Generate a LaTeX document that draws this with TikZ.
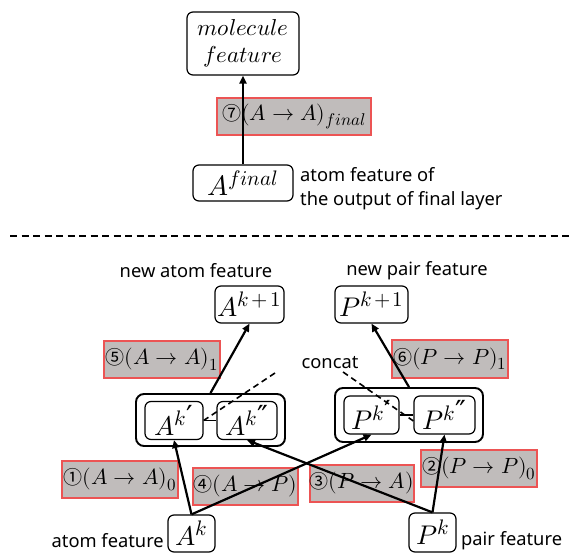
\documentclass[tikz,border=0pt]{standalone}
\usepackage{fontspec}
\usepackage{unicode-math}
\setmainfont{Noto Sans}
\setmathfont{Latin Modern Math}
\newfontfamily\circfont{Noto Sans CJK JP}
\newfontfamily\primefont{DejaVu Sans}
\usetikzlibrary{arrows.meta,calc}
\definecolor{lblgray}{RGB}{192,188,187}
\definecolor{lblred}{RGB}{236,84,84}
\tikzset{
  featbox/.style={draw=black, line width=1.2pt, rounded corners=6pt, inner sep=0pt, fill=white},
  groupbox/.style={draw=black, line width=1.9pt, rounded corners=8pt, inner sep=0pt},
  opbox/.style={draw=lblred, fill=lblgray, line width=1.2pt, inner sep=0pt},
  flow/.style={line width=2.2pt, -{Triangle[length=8pt,width=7pt]}},
  cat/.style={dashed, line width=1.6pt, dash pattern=on 6pt off 4pt},
  sanslbl/.style={inner sep=0pt, font=\fontsize{18.3}{24}\selectfont},
  mathbig/.style={font=\fontsize{27}{29}\selectfont},
  oplbl/.style={font=\fontsize{22}{26}\selectfont},
}
% circled step number
\newcommand{\cnum}[1]{{\circfont\fontsize{19}{24}\selectfont #1}}
% scripts set at an explicit size
\newcommand{\hsup}[2]{^{\hbox{\fontsize{#1}{#1}\selectfont$#2$}}}
\newcommand{\hsub}[2]{_{\hbox{\fontsize{#1}{#1}\selectfont$#2$}}}
\newcommand{\pr}{\hbox{\primefont\fontsize{29}{29}\selectfont\kern0.5pt\raise-1pt\hbox{′}}}
\newcommand{\ppr}{\hbox{\primefont\fontsize{29}{29}\selectfont\kern0.5pt\raise-1pt\hbox{″}}}
\newcommand{\kpo}{k\mkern2mu{+}\mkern2mu1}
\begin{document}
\begin{tikzpicture}[x=1pt,y=-1pt]
\useasboundingbox (0,0) rectangle (582,553);

% ---- readout part ----
\node[featbox, minimum width=112pt, minimum height=63pt, align=center,
      font=\fontsize{23}{27}\selectfont] (mol) at (243,43.5) {$molecule$\\$feature$};
\node[opbox, minimum width=154pt, minimum height=37pt, oplbl] (l7) at (294,116.5)
      {\cnum{⑦}$(A\to A)\hsub{17}{final}$};
\node[featbox, minimum width=100pt, minimum height=36pt, font=\fontsize{28}{31}\selectfont] (afin) at (243,183) {$A\hsup{21}{final}$};
\node[sanslbl, anchor=west, align=left] (afintxt) at (300,189) {atom feature of\\the output of final layer};
\draw[flow] (afin.north) -- (mol.south);

% ---- separator ----
\coordinate (sepL) at (10,236);
\coordinate (sepR) at (572,236);
\draw[line width=2pt, dash pattern=on 7pt off 4.5pt] (sepL) -- (sepR);

% ---- one layer ----
\node[sanslbl] (newatom) at (196,271) {new atom feature};
\node[sanslbl] (newpair) at (417,271) {new pair feature};
\node[featbox, minimum width=69pt, minimum height=37pt, mathbig] (Ak1) at (249.5,304.5) {$A\hsup{21}{\kpo}$};
\node[featbox, minimum width=73pt, minimum height=37pt, mathbig] (Pk1) at (371.5,304.5) {$P\hsup{21}{\kpo}$};

\node[opbox, minimum width=116pt, minimum height=37pt, oplbl] (l5) at (162,359.5) {\cnum{⑤}$(A\to A)\hsub{17}{1}$};
\node[opbox, minimum width=116pt, minimum height=38pt, oplbl] (l6) at (450,359) {\cnum{⑥}$(P\to P)\hsub{17}{1}$};
\node[sanslbl] (concat) at (330,363) {concat};

\node[groupbox, minimum width=149pt, minimum height=52pt] (Aout) at (210.5,420) {};
\node[groupbox, minimum width=148pt, minimum height=54pt] (Pout) at (409,415) {};
\node[featbox, minimum width=58pt, minimum height=38pt, mathbig] (Akp) at (174,420.5) {$A\hsup{21}{k\pr}$};
\node[featbox, minimum width=60pt, minimum height=38pt, mathbig] (Akpp) at (247,420.5) {$A\hsup{21}{k\ppr}$};
\node[featbox, minimum width=55pt, minimum height=38pt, mathbig] (Pkp) at (371.5,415) {$P\hsup{21}{k\pr}$};
\node[featbox, minimum width=61pt, minimum height=38pt, mathbig] (Pkpp) at (444.5,415) {$P\hsup{21}{k\ppr}$};
\draw[line width=1.2pt] (Akp.east) -- (Akpp.west);
\draw[line width=1.2pt] (Pkp.east) -- (Pkpp.west);

\node[opbox, minimum width=116pt, minimum height=37pt, oplbl] (l1) at (120,479.5) {\cnum{①}$(A\to A)\hsub{17}{0}$};
\node[opbox, minimum width=105pt, minimum height=37pt, oplbl] (l4) at (245.5,486.5) {\cnum{④}$(A\to P)$};
\node[opbox, minimum width=102pt, minimum height=37pt, oplbl] (l3) at (362,483.5) {\cnum{③}$(P\to A)$};
\node[opbox, minimum width=116pt, minimum height=37pt, oplbl] (l2) at (479,468.5) {\cnum{②}$(P\to P)\hsub{17}{0}$};

\node[featbox, minimum width=47pt, minimum height=37pt, mathbig] (Ak) at (191.5,533.5) {$A\hsup{21}{k}$};
\node[featbox, minimum width=47pt, minimum height=39pt, mathbig] (Pk) at (432.5,532.5) {$P\hsup{21}{k}$};
\node[sanslbl, anchor=east] (atomtxt) at (164,541) {atom feature};
\node[sanslbl, anchor=west] (pairtxt) at (461,541) {pair feature};

% message passing arrows
\draw[flow] (Ak.north) -- (Akp.south);
\draw[flow] (Ak.north) -- (Pkp.south);
\draw[flow] (Pk.north) -- (Pkpp.south);
\draw[flow] (Pk.north) -- (Akpp.south);
\draw[flow] (Aout.north) -- (Ak1.south);
\draw[flow] (Pout.north) -- (Pk1.south);

% concatenation markers
\coordinate (catA) at (275,373);
\coordinate (catP) at (343,372);
\draw[cat] (catA) -- (Akp.east);
\draw[cat] (catP) -- ($(Pkpp.west)+(0,6)$);
\end{tikzpicture}
\end{document}
